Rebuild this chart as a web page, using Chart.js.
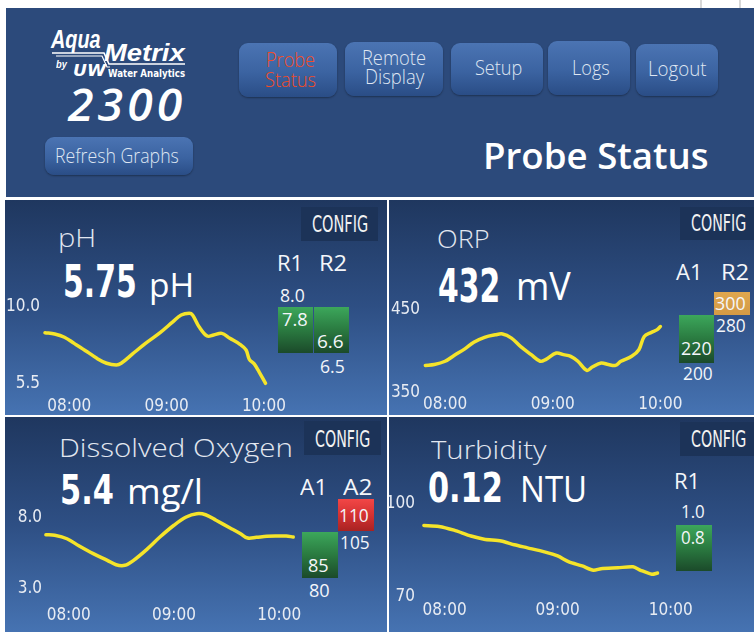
<!DOCTYPE html>
<html><head><meta charset="utf-8"><title>Probe Status</title>
<script src="https://cdn.jsdelivr.net/npm/chart.js@4.4.1/dist/chart.umd.min.js"></script>
<style>
html,body{margin:0;padding:0;}
body{position:relative;width:754px;height:632px;overflow:hidden;background:#fff;}
.hdr{position:absolute;background:#2c4a7b;}
.panel{position:absolute;background:linear-gradient(to bottom,#1f375f 0%,#2e4f84 50%,#4673b2 100%);}
.btn{position:absolute;border-radius:9px;background:linear-gradient(to bottom,#4b74b3 0%,#3b63a1 55%,#2a4d86 100%);box-shadow:0 1px 2px rgba(0,0,0,.35);}
.cfg{position:absolute;background:#1c3358;}
.g{position:absolute;background:linear-gradient(to bottom,#3ca75b 0%,#2a7a40 50%,#1b4a2a 100%);}
.o{position:absolute;background:linear-gradient(to bottom,#e0a74f,#d39a45);}
.r{position:absolute;background:linear-gradient(to bottom,#f24646 0%,#d43232 50%,#a82222 100%);}
.chrome{position:absolute;background:#d8d8d8;}
canvas{position:absolute;}
</style></head><body>
<script>
// ---------- DATA ----------
const xTickLabels = ['08:00', '09:00', '10:00'];

const phTimes  = ['07:45','07:51','07:57','08:03','08:11','08:17','08:23','08:29','08:32','08:39','08:47','08:56','09:04','09:09','09:14','09:16','09:20','09:25','09:29','09:34','09:39','09:45','09:49','09:51','09:54','09:57','10:01'];
const phValues = [8.49,8.41,8.22,7.86,7.37,6.98,6.69,6.59,6.69,7.24,7.86,8.49,9.14,9.53,9.63,9.53,8.84,8.29,8.35,8.45,8.16,7.82,7.47,6.92,6.65,6.19,5.51];
const phYTicks = ['5.5', '10.0'];

const orpTimes  = ['07:49','07:54','08:00','08:05','08:11','08:16','08:22','08:28','08:32','08:37','08:42','08:48','08:53','08:56','09:02','09:06','09:10','09:14','09:19','09:22','09:27','09:31','09:35','09:38','09:44','09:48','09:51','09:55','09:58','10:00'];
const orpValues = [383,384,388,395,403,411,417,420,421,416,406,396,388,390,398,396,394,388,377,381,386,384,383,388,394,402,418,423,426,430];
const orpYTicks = ['350', '450'];

const doTimes  = ['07:47','07:52','07:59','08:06','08:14','08:22','08:27','08:32','08:37','08:45','08:52','09:00','09:07','09:13','09:18','09:24','09:32','09:38','09:42','09:47','09:53','09:59','10:04','10:08'];
const doValues = [6.82,6.78,6.54,6.03,5.49,5.02,4.71,4.67,5.02,5.84,6.66,7.49,8.07,8.30,8.23,7.84,7.30,6.89,6.59,6.64,6.71,6.73,6.73,6.66];
const doYTicks = ['3.0', '8.0'];

const turbTimes  = ['07:49','07:57','08:05','08:14','08:21','08:30','08:37','08:44','08:53','09:00','09:06','09:13','09:19','09:23','09:32','09:40','09:44','09:50','09:53'];
const turbValues = [93.0,92.7,91.5,89.6,88.6,88.0,86.8,85.8,84.5,83.2,81.3,80.0,78.6,79.1,79.4,79.7,78.6,77.3,77.7];
const turbYTicks = ['70', '100'];

// ---------- HELPERS ----------
const OS = "'Open Sans','Noto Sans',sans-serif";
const NF = "'Liberation Sans Narrow','DejaVu Sans Condensed','Arial Narrow','Liberation Sans',sans-serif";
const LS = "'Liberation Sans',Arial,sans-serif";

function toMin(s){ const p = s.split(':').map(Number); return p[0]*60 + p[1]; }

function rect(l,t,r,b,cls,extra){
  const d = document.createElement('div');
  d.className = cls;
  d.style.left = l+'px'; d.style.top = t+'px';
  d.style.width = (r-l)+'px'; d.style.height = (b-t)+'px';
  if (extra) Object.assign(d.style, extra);
  document.body.appendChild(d);
  return d;
}

function txt(s,l,r,b,fs,o){
  o = o || {};
  const d = document.createElement('div');
  d.style.cssText = 'position:absolute;white-space:nowrap;line-height:1;top:0;transform-origin:0 0;' +
    'left:'+l+'px;font-size:'+fs+'px;font-family:'+(o.ff||OS)+';font-weight:'+(o.fw||400)+
    ';font-style:'+(o.fst||'normal')+';color:'+(o.col||'#f4f6fa')+';letter-spacing:'+(o.ls||0)+'px;';
  d.appendChild(document.createTextNode(s));
  const m = document.createElement('i');
  m.style.cssText = 'display:inline-block;width:0;height:0;vertical-align:baseline;';
  d.appendChild(m);
  document.body.appendChild(d);
  d.style.top = (b - m.offsetTop) + 'px';
  if (r != null){
    const w = d.offsetWidth - (o.ls||0);
    d.style.transform = 'scaleX(' + ((r-l)/w) + ')';
  }
  return d;
}

function lineChart(cfg){
  const times = cfg.times.map(toMin);
  const xTickVals = xTickLabels.map(toMin);
  const yTickVals = cfg.yTicks.map(parseFloat);
  const yMin = Math.min.apply(null, yTickVals), yMax = Math.max.apply(null, yTickVals);
  const xMin = Math.min(times[0], xTickVals[0]);
  const xMax = Math.max(times[times.length-1], xTickVals[xTickVals.length-1]);
  const px = t => cfg.x08 + (t - xTickVals[0]) * cfg.pph / 60;
  const L = px(xMin), R = px(xMax);
  const cl = cfg.cl;
  const ct = Math.floor(cfg.yTop - 22);
  const W = Math.ceil(R + 32 - cl);
  const H = Math.ceil(cfg.yBot + 42 - ct);
  const c = document.createElement('canvas');
  c.width = W; c.height = H;
  c.style.left = cl+'px'; c.style.top = ct+'px'; c.style.width = W+'px'; c.style.height = H+'px';
  document.body.appendChild(c);
  const yW = L - cl, xH = H - (cfg.yBot - ct);
  const tickFont = {family: NF, size: 17};
  new Chart(c, {
    type: 'line',
    data: {datasets: [{
      data: times.map((t,i) => ({x: t, y: cfg.values[i]})),
      borderColor: '#f5e42a', borderWidth: 3.5, pointRadius: 0, pointHoverRadius: 0,
      tension: cfg.tension, clip: false, fill: false
    }]},
    options: {
      responsive: false, animation: false, devicePixelRatio: 1, events: [],
      layout: {padding: {left: 0, top: cfg.yTop - ct, right: W - (R - cl), bottom: 0}},
      plugins: {legend: {display: false}, tooltip: {enabled: false}},
      elements: {line: {capBezierPoints: false, borderCapStyle: 'round', borderJoinStyle: 'round'}},
      scales: {
        x: {type: 'linear', min: xMin, max: xMax,
            grid: {display: false, drawTicks: false}, border: {display: false},
            ticks: {autoSkip: false, maxRotation: 0, padding: cfg.xPad, color: '#e8ecf3', font: tickFont,
                    callback: v => { const i = xTickVals.indexOf(v); return i >= 0 ? xTickLabels[i] : ''; }},
            afterBuildTicks: s => { s.ticks = xTickVals.map(v => ({value: v})); },
            afterFit: s => { s.height = xH; }},
        y: {min: yMin, max: yMax,
            grid: {display: false, drawTicks: false}, border: {display: false},
            ticks: {padding: cfg.yPad, color: '#e8ecf3', font: tickFont,
                    callback: v => { const i = yTickVals.indexOf(v); return i >= 0 ? cfg.yTicks[i] : ''; }},
            afterBuildTicks: s => { s.ticks = yTickVals.map(v => ({value: v})); },
            afterFit: s => { s.width = yW; }}
      }
    }
  });
}

// ---------- HEADER ----------
rect(700,0,702,8,'chrome');
rect(739,0,741,8,'chrome');
rect(6,8,754,197,'hdr');

// logo
const svgNS = 'http://www.w3.org/2000/svg';
const svg = document.createElementNS(svgNS,'svg');
svg.setAttribute('width','754'); svg.setAttribute('height','200');
svg.style.cssText = 'position:absolute;left:0;top:0;';
const pl = document.createElementNS(svgNS,'polyline');
pl.setAttribute('points','52,53 104,53 109,64 185,64');
pl.setAttribute('fill','none'); pl.setAttribute('stroke','#fff'); pl.setAttribute('stroke-width','1.6');
svg.appendChild(pl);
const pl2 = document.createElementNS(svgNS,'polyline');
pl2.setAttribute('points','56,56 102,56 107,67 110,67');
pl2.setAttribute('fill','none'); pl2.setAttribute('stroke','#fff'); pl2.setAttribute('stroke-width','1.2');
svg.appendChild(pl2);
document.body.appendChild(svg);
txt('Aqua',51,101,48,25,{ff:LS,fw:700,fst:'italic',col:'#fff'});
txt('Metrix',104,185,61,23,{ff:LS,fw:700,fst:'italic',col:'#fff'});
txt('by',56,67,68,11,{ff:LS,fw:700,fst:'italic',col:'#fff'});
txt('UW',73,106,76,15,{ff:NF,fw:700,fst:'italic',col:'#fff'});
txt('Water Analytics',108,185,77,11,{ff:NF,fw:700,col:'#fff'});
txt('2300',68,182,121,45,{fw:600,fst:'italic',col:'#fff',ls:4});

// buttons
rect(45,137,193,175,'btn');
txt('Refresh Graphs',55,179,163,20,{fw:300,col:'#dfe6f2'});
rect(239,43,337,97,'btn');
txt('Probe',266,315,67,20,{fw:300,col:'#f24c27'});
txt('Status',265,316,87,20,{fw:300,col:'#f24c27'});
rect(345,42,443,96,'btn');
txt('Remote',362,426,65,20,{fw:300,col:'#dfe6f2'});
txt('Display',365,424,84,20,{fw:300,col:'#dfe6f2'});
rect(451,43,543,95,'btn');
txt('Setup',475,522,75,20,{fw:300,col:'#dfe6f2'});
rect(548,41,630,95,'btn');
txt('Logs',572,610,75,20,{fw:300,col:'#dfe6f2'});
rect(636,44,718,96,'btn');
txt('Logout',648,707,76,20,{fw:300,col:'#dfe6f2'});

txt('Probe Status',483,709,169,36,{fw:600,col:'#fff'});

// ---------- PANELS ----------
rect(5,200,387,415,'panel');
rect(389,200,754,415,'panel');
rect(5,417,387,632,'panel');
rect(389,417,754,632,'panel');

// pH panel
rect(301,207,378,241,'cfg');
txt('CONFIG',312,368,232,23,{ff:NF,fw:400,col:'#f2f2f2'});
txt('pH',58,96,247,26,{fw:300,col:'#e2e7f0'});
txt('5.75',63,137,297,44,{ff:NF,fw:700,col:'#fff'});
txt('pH',149,194,297,32,{col:'#fff'});
txt('R1',277,303,271,22); txt('R2',319,347,271,22);
txt('8.0',280,305,301.7,19);
rect(278,307,313,353,'g'); rect(314,307,349,353,'g');
txt('7.8',282,308,326,19);
txt('6.6',317,344,348.3,19);
txt('6.5',320,345,372.7,19);

// ORP panel
rect(680,207,754,240,'cfg');
txt('CONFIG',691,746,231,23,{ff:NF,fw:400,col:'#f2f2f2'});
txt('ORP',437,490,248,26,{fw:300,col:'#e2e7f0'});
txt('432',438,500,301.7,46,{ff:NF,fw:700,col:'#fff'});
txt('mV',516,571,300,38,{col:'#fff'});
txt('A1',676,703,280,22); txt('R2',721,749,280,22);
rect(714,292,750,315,'o');
txt('300',715,746,310,19);
txt('280',716,746,331.7,19);
rect(679,315,714,363,'g');
txt('220',681,712,355,19);
txt('200',683,713,380,19);

// DO panel
rect(304,421,381,455,'cfg');
txt('CONFIG',315,370,447,23,{ff:NF,fw:400,col:'#f2f2f2'});
txt('Dissolved Oxygen',59,293,457,26,{fw:300,col:'#e2e7f0'});
txt('5.4',60,114,503.7,40,{ff:NF,fw:700,col:'#fff'});
txt('mg/l',127,203,503.7,34,{col:'#fff'});
txt('A1',300,328,495.3,22); txt('A2',343,373,495.3,22);
rect(338,499,374,531,'r');
txt('110',339,369,522,19);
txt('105',340,370,549.3,19);
rect(302,532,338,578,'g');
txt('85',308,329,572,19);
txt('80',309,330,597,19);

// Turbidity panel
rect(680,422,754,456,'cfg');
txt('CONFIG',691,746,447,23,{ff:NF,fw:400,col:'#f2f2f2'});
txt('Turbidity',431,546,459,26,{fw:300,col:'#e2e7f0'});
txt('0.12',428,503,502,40,{ff:NF,fw:700,col:'#fff'});
txt('NTU',520,587,502,36,{col:'#fff'});
txt('R1',674,700,488.7,22);
txt('1.0',681,705,518,19);
rect(676,525,712,571,'g');
txt('0.8',681,705,543.7,19);

// ---------- CHARTS ----------
lineChart({times: phTimes,   values: phValues,   yTicks: phYTicks,   x08: 69.4,  pph: 97.75,  yTop: 307,   yBot: 383.5, cl: 5,   yPad: 5,   xPad: 12.8, tension: 0.35});
lineChart({times: orpTimes,  values: orpValues,  yTicks: orpYTicks,  x08: 445.1, pph: 107.65, yTop: 310,   yBot: 392.7, cl: 389, yPad: 5.3, xPad: 2.1,  tension: 0.35});
lineChart({times: doTimes,   values: doValues,   yTicks: doYTicks,   x08: 68.7,  pph: 105.25, yTop: 518,   yBot: 589,   cl: 5,   yPad: 3.9, xPad: 16.5, tension: 0.35});
lineChart({times: turbTimes, values: turbValues, yTicks: turbYTicks, x08: 444.6, pph: 113.05, yTop: 503.7, yBot: 597,   cl: 389, yPad: 9,   xPad: 3.5,  tension: 0.25});
</script>
</body></html>
